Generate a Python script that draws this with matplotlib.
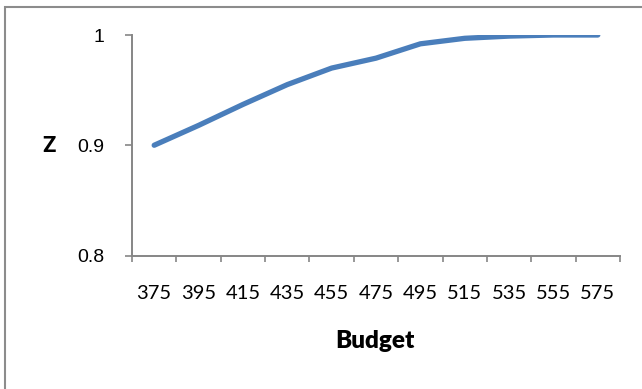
import matplotlib
matplotlib.use("Agg")
import matplotlib.pyplot as plt
from matplotlib.patches import Rectangle

budget = [375, 395, 415, 435, 455, 475, 495, 515, 535, 555, 575]
z_values = [0.900, 0.918, 0.937, 0.955, 0.970, 0.979, 0.992, 0.997, 0.999, 1.000, 1.000]
y_ticks = [0.8, 0.9, 1.0]
y_tick_labels = ["0.8", "0.9", "1"]

axis_grey = "#868686"
line_blue = "#4A7EBB"

fig = plt.figure(figsize=(6.42, 3.89), dpi=100)
ax = fig.add_axes([132 / 642, 133.5 / 389, 488 / 642, 220.5 / 389])

x = list(range(len(budget)))
ax.plot(x, z_values, color=line_blue, lw=3.8, solid_capstyle="round")

ax.set_xlim(-0.5, len(budget) - 0.5)
ax.set_ylim(0.8, 1.0)

# category ticks sit between the labels, like a spreadsheet chart
ax.set_xticks([i - 0.5 for i in range(len(budget) + 1)])
ax.set_xticklabels([])
ax.set_xticks(x, minor=True)
ax.set_xticklabels([str(b) for b in budget], minor=True,
                    fontfamily="Lato", fontsize=14.5)
ax.tick_params(axis="x", which="major", direction="out", length=4,
               width=1.2, color=axis_grey)
ax.tick_params(axis="x", which="minor", length=0, pad=21)

ax.set_yticks(y_ticks)
ax.set_yticklabels(y_tick_labels, fontfamily="Liberation Sans", fontsize=14)
ax.tick_params(axis="y", direction="out", length=5, width=1.2,
               color=axis_grey, pad=15)

for side in ("top", "right"):
    ax.spines[side].set_visible(False)
for side in ("left", "bottom"):
    ax.spines[side].set_color(axis_grey)
    ax.spines[side].set_linewidth(1.4)

fig.text(49 / 642, 1 - 146 / 389, "Z", family="Roboto",
         weight="bold", fontsize=16, ha="center", va="center")
fig.text(375 / 642, 1 - 341 / 389, "Budget", family="Lato",
         weight="heavy", fontsize=17.5, ha="center", va="center")

# chart frame, running off the right and bottom edges
fig.patches.append(Rectangle((5.5 / 642, -0.1), 1.2, 1 - 6.5 / 389 + 0.1,
                             transform=fig.transFigure, fill=False,
                             edgecolor="#8c8c8c", lw=1.5))

fig.savefig("out.png", dpi=100)
